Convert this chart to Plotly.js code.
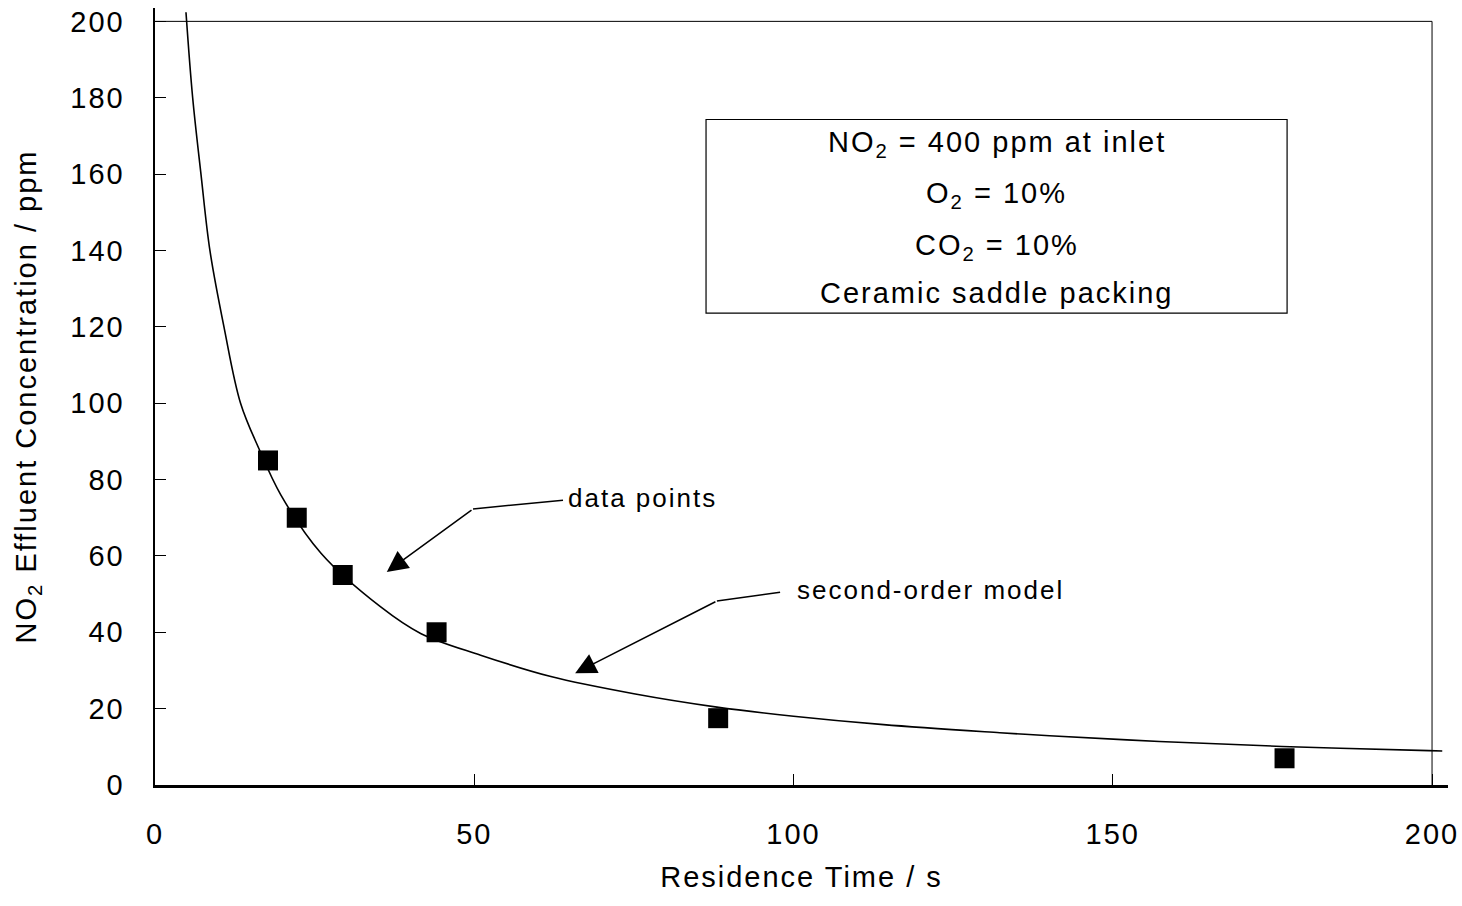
<!DOCTYPE html>
<html>
<head>
<meta charset="utf-8">
<script src="https://cdn.plot.ly/plotly-3.0.1.min.js"></script>
<style>
  html, body { margin: 0; padding: 0; background: #fff; }
  #chart { width: 1462px; height: 906px; }
  #chart svg text { letter-spacing: 2px; }
</style>
</head>
<body>
<div id="chart"></div>
<script>
// Measured data points (residence time s, NO2 ppm)
const dataTime = [17.7, 22.2, 29.4, 44.1, 88.2, 176.9];
const dataConc = [85, 70, 55, 40, 17.5, 7];

// Second-order model curve
const modelTime = [4.85, 5.9, 7.2, 8.6, 10.8, 13.4, 16.3, 19.7, 26.0, 35.3, 41.6, 51.0, 62.0, 75.0, 88.0, 100.0, 114.1, 132.3, 140.1, 157.3, 176.5, 199.5, 201.6];
const modelConc = [202.4, 180, 160, 140, 120, 100, 88, 76, 60.7, 46.7, 39.7, 34.0, 28.4, 23.9, 20.4, 18.0, 15.8, 13.7, 12.9, 11.4, 10.1, 9.0, 8.9];

const xTicks = [0, 50, 100, 150, 200];
const yTicks = [0, 20, 40, 60, 80, 100, 120, 140, 160, 180, 200];

const infoLines = ["NO<sub>2</sub> = 400 ppm at inlet", "O<sub>2</sub> = 10%", "CO<sub>2</sub> = 10%", "Ceramic saddle packing"];

const FONT = "Arial, 'Liberation Sans', sans-serif";
const FS = 29;

const traces = [
  {
    x: modelTime, y: modelConc, mode: 'lines', type: 'scatter',
    line: {color: '#000', width: 1.6, shape: 'spline', smoothing: 1},
    hoverinfo: 'skip', showlegend: false
  },
  {
    x: dataTime, y: dataConc, mode: 'markers', type: 'scatter',
    marker: {symbol: 'square', size: 20, color: '#000'},
    showlegend: false
  }
];

// Info box geometry (data units)
const boxX0 = 86.3, boxX1 = 177.3, boxY0 = 123.6, boxY1 = 174.3;
const boxCx = (boxX0 + boxX1) / 2;
const lineY = [168.0, 154.5, 140.8, 128.8];

const annotations = infoLines.map((t, i) => ({
  x: boxCx, y: lineY[i], xref: 'x', yref: 'y', text: t, showarrow: false,
  xanchor: 'center', yanchor: 'middle', font: {family: FONT, size: FS, color: '#000'}
}));

// "data points" label and arrow
annotations.push({x: 76.35, y: 75.1, xref: 'x', yref: 'y', text: 'data points', showarrow: false,
  xanchor: 'center', yanchor: 'middle', font: {family: FONT, size: 26, color: '#000'}});
annotations.push({x: 36.3, y: 55.8, ax: 49.8, ay: 72.3, xref: 'x', yref: 'y', axref: 'x', ayref: 'y',
  text: '', showarrow: true, arrowhead: 2, arrowsize: 2.8, arrowwidth: 1.5, arrowcolor: '#000', standoff: 0});

// "second-order model" label and arrow
annotations.push({x: 121.4, y: 51.0, xref: 'x', yref: 'y', text: 'second-order model', showarrow: false,
  xanchor: 'center', yanchor: 'middle', font: {family: FONT, size: 26, color: '#000'}});
annotations.push({x: 65.8, y: 29.3, ax: 88.0, ay: 48.2, xref: 'x', yref: 'y', axref: 'x', ayref: 'y',
  text: '', showarrow: true, arrowhead: 2, arrowsize: 2.8, arrowwidth: 1.5, arrowcolor: '#000', standoff: 0});

const shapes = [
  // frame top and right
  {type: 'line', xref: 'x', yref: 'y', x0: 0, x1: 200, y0: 200, y1: 200, line: {color: '#000', width: 1}},
  {type: 'line', xref: 'x', yref: 'y', x0: 200, x1: 200, y0: 0, y1: 200, line: {color: '#000', width: 1}},
  // info box
  {type: 'rect', xref: 'x', yref: 'y', x0: boxX0, x1: boxX1, y0: boxY0, y1: boxY1, line: {color: '#000', width: 1.2}, fillcolor: 'rgba(0,0,0,0)'},
  // first legs of leader lines
  {type: 'line', xref: 'x', yref: 'y', x0: 63.9, y0: 74.6, x1: 49.8, y1: 72.3, line: {color: '#000', width: 1.5}},
  {type: 'line', xref: 'x', yref: 'y', x0: 97.9, y0: 50.5, x1: 88.0, y1: 48.2, line: {color: '#000', width: 1.5}}
];

const layout = {
  width: 1462, height: 906,
  margin: {l: 155, r: 14, t: 8, b: 121},
  paper_bgcolor: '#fff', plot_bgcolor: '#fff',
  font: {family: FONT, size: FS, color: '#000'},
  showlegend: false,
  xaxis: {
    range: [0, 202.5], tickvals: xTicks, ticktext: xTicks.map(String),
    ticks: 'inside', ticklen: 11, tickwidth: 1, tickcolor: '#000',
    showline: true, linecolor: '#000', linewidth: 2.5,
    showgrid: false, zeroline: false, ticklabelstandoff: 22,
    tickfont: {family: FONT, size: FS, color: '#000'},
    title: {text: 'Residence Time / s', font: {family: FONT, size: FS, color: '#000'}, standoff: 18}
  },
  yaxis: {
    range: [0, 203.5], tickvals: yTicks, ticktext: yTicks.map(String),
    ticks: 'inside', ticklen: 11, tickwidth: 1, tickcolor: '#000',
    showline: true, linecolor: '#000', linewidth: 2.5,
    showgrid: false, zeroline: false, ticklabelstandoff: 22,
    tickfont: {family: FONT, size: FS, color: '#000'},
    title: {text: 'NO<sub>2</sub> Effluent Concentration / ppm', font: {family: FONT, size: FS, color: '#000'}, standoff: 31}
  },
  shapes: shapes,
  annotations: annotations
};

Plotly.newPlot('chart', traces, layout, {displayModeBar: false, staticPlot: true});
</script>
</body>
</html>
